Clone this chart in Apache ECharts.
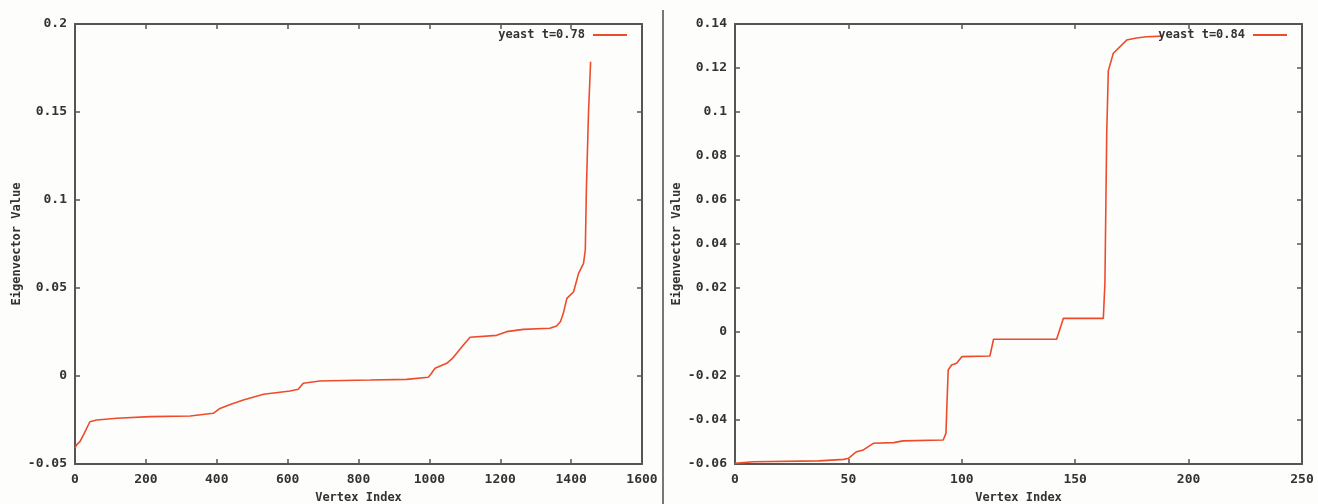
<!DOCTYPE html>
<html>
<head>
<meta charset="utf-8"/>
<title>Eigenvector Value vs Vertex Index</title>
<script src="https://cdn.jsdelivr.net/npm/echarts@6/dist/echarts.min.js"></script>
<style>
    html, body { margin: 0; padding: 0; background: #fdfdfc; }
    #chart { width: 1318px; height: 504px; }
</style>
</head>
<body>
<div id="chart"></div>
<script>
    // left panel, yeast t=0.78
    var leftName = 'yeast t=0.78';
    var leftIdx = [0, 5, 14, 25, 42, 61, 118, 212, 325, 390, 409, 440, 475, 532, 607, 630, 644, 691, 720, 833, 936, 997, 1004, 1016, 1049, 1065, 1077, 1096, 1115, 1190, 1218, 1265, 1340, 1359, 1370, 1378, 1388, 1407, 1421, 1435, 1440, 1443, 1449, 1455];
    var leftVal = [-0.041, -0.039, -0.0373, -0.033, -0.026, -0.025, -0.024, -0.0231, -0.0227, -0.0212, -0.0184, -0.016, -0.0136, -0.0104, -0.0085, -0.0075, -0.0041, -0.0028, -0.0027, -0.0023, -0.0019, -0.0007, 0.001, 0.0044, 0.0072, 0.010, 0.0129, 0.0176, 0.0220, 0.0231, 0.0252, 0.0265, 0.0271, 0.0284, 0.031, 0.0356, 0.0441, 0.0479, 0.0583, 0.0640, 0.0716, 0.1057, 0.1494, 0.1786];

    // right panel, yeast t=0.84
    var rightName = 'yeast t=0.84';
    var rightIdx = [0, 8, 37, 48, 50, 53.6, 56.6, 61, 70, 74, 91.8, 93, 94, 95.5, 97.7, 100, 112.4, 114, 141.8, 144.8, 162.4, 163.1, 163.9, 164.6, 166.8, 172.7, 177, 181.5, 188.7];
    var rightVal = [-0.0597, -0.059, -0.0586, -0.0579, -0.0574, -0.0544, -0.0536, -0.0506, -0.0503, -0.0495, -0.0491, -0.0461, -0.0173, -0.0150, -0.0142, -0.0112, -0.0109, -0.0033, -0.0033, 0.0062, 0.0062, 0.0221, 0.0903, 0.1187, 0.1267, 0.1327, 0.1336, 0.1342, 0.1345];

    var FONT = 'DejaVu Sans Mono';
    var TXT = '#333';
    var BORDER = '#555';
    var RED = '#ee4b2b';

    function pairs(xs, ys) {
        var out = [];
        for (var i = 0; i < xs.length; i++) out.push([xs[i], ys[i]]);
        return out;
    }

    var nameStyle = { color: TXT, fontFamily: FONT, fontWeight: 'bold', fontSize: 12 };
    var tickStyle = { color: TXT, fontFamily: FONT, fontWeight: 'bold', fontSize: 13 };

    function plain(v) { return String(v); }

    function xAx(grid, min, max, interval, pos) {
        var bottom = pos === 'bottom';
        return {
            type: 'value', gridIndex: grid, position: pos, min: min, max: max, interval: interval,
            name: bottom ? 'Vertex Index' : '', nameLocation: 'middle', nameGap: 28,
            nameTextStyle: nameStyle,
            axisLine: { show: true, onZero: false, lineStyle: { color: BORDER, width: 2 } },
            axisTick: { show: true, inside: true, length: 5, lineStyle: { color: BORDER, width: 1.5 } },
            axisLabel: Object.assign({ show: bottom, margin: 9, formatter: plain }, tickStyle),
            splitLine: { show: false }
        };
    }

    function yAx(grid, min, max, interval, pos) {
        var left = pos === 'left';
        return {
            type: 'value', gridIndex: grid, position: pos, min: min, max: max, interval: interval,
            name: left ? 'Eigenvector Value' : '', nameLocation: 'middle', nameGap: 52, nameRotate: 90,
            nameTextStyle: nameStyle,
            axisLine: { show: true, onZero: false, lineStyle: { color: BORDER, width: 2 } },
            axisTick: { show: true, inside: true, length: 5, lineStyle: { color: BORDER, width: 1.5 } },
            axisLabel: Object.assign({ show: left, margin: 8 }, tickStyle),
            splitLine: { show: false }
        };
    }

    function legendFor(name, right) {
        return {
            data: [name], right: right, top: 29, padding: 0, align: 'right', orient: 'horizontal',
            icon: 'rect', itemWidth: 34, itemHeight: 2, selectedMode: false,
            textStyle: { color: TXT, fontFamily: FONT, fontWeight: 'bold', fontSize: 12, padding: [0, 3, 0, 0] }
        };
    }

    var chart = echarts.init(document.getElementById('chart'));
    chart.setOption({
        backgroundColor: '#fdfdfc',
        animation: false,
        grid: [
            { left: 75, top: 24, width: 567, height: 440, outerBoundsMode: 'none', containLabel: false },
            { left: 735, top: 24, width: 567, height: 440, outerBoundsMode: 'none', containLabel: false }
        ],
        xAxis: [
            xAx(0, 0, 1600, 200, 'bottom'),
            xAx(0, 0, 1600, 200, 'top'),
            xAx(1, 0, 250, 50, 'bottom'),
            xAx(1, 0, 250, 50, 'top')
        ],
        yAxis: [
            yAx(0, -0.05, 0.2, 0.05, 'left'),
            yAx(0, -0.05, 0.2, 0.05, 'right'),
            yAx(1, -0.06, 0.14, 0.02, 'left'),
            yAx(1, -0.06, 0.14, 0.02, 'right')
        ],
        legend: [legendFor(leftName, 691), legendFor(rightName, 31)],
        series: [
            {
                name: leftName, type: 'line', xAxisIndex: 0, yAxisIndex: 0,
                data: pairs(leftIdx, leftVal), showSymbol: false, symbol: 'none',
                lineStyle: { color: RED, width: 1.6 }, itemStyle: { color: RED }
            },
            {
                name: rightName, type: 'line', xAxisIndex: 2, yAxisIndex: 2,
                data: pairs(rightIdx, rightVal), showSymbol: false, symbol: 'none',
                lineStyle: { color: RED, width: 1.6 }, itemStyle: { color: RED }
            }
        ],
        graphic: [
            { type: 'line', shape: { x1: 663, y1: 10, x2: 663, y2: 504 }, style: { stroke: '#777', lineWidth: 2 } }
        ]
    });
</script>
</body>
</html>
